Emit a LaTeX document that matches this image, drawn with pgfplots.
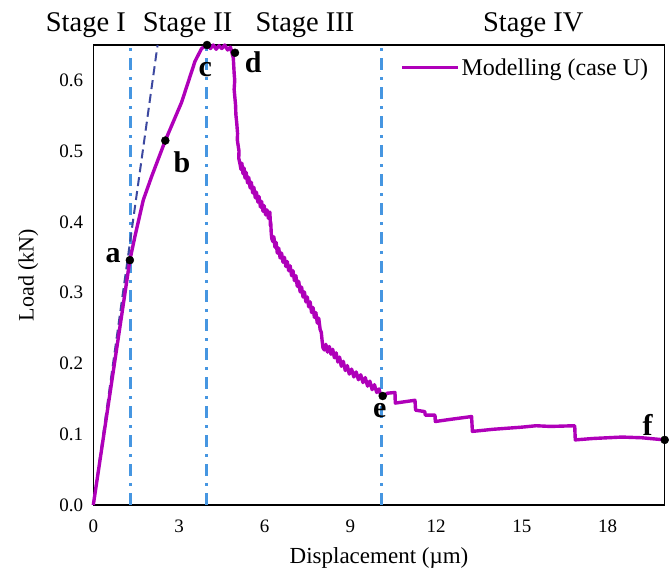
\documentclass[border=0pt]{standalone}
\usepackage{fontspec}
\setmainfont{Liberation Serif}
\usepackage{pgfplots}
\pgfplotsset{compat=1.18}
\definecolor{curve}{RGB}{175,0,185}
\definecolor{vline}{RGB}{70,150,225}
\definecolor{tline}{RGB}{60,72,160}
\begin{document}
\begin{tikzpicture}
\useasboundingbox (-93.3bp,-70bp) rectangle (578.7bp,505bp);
\begin{axis}[
  scale only axis,
  width=571.4bp, height=460bp,
  xmin=0, xmax=20, ymin=0, ymax=0.65,
  xtick={0,3,...,18},
  ytick={0,0.1,...,0.6},
  major tick length=0pt,
  axis line style={black, line width=1.1bp},
  /pgf/number format/assume math mode=true,
  yticklabel style={/pgf/number format/.cd, fixed, fixed zerofill, precision=1, /tikz/.cd, inner sep=0pt, xshift=-10bp, font=\fontsize{19bp}{22bp}\selectfont},
  xticklabel style={inner sep=0pt, yshift=-15bp, font=\fontsize{19bp}{22bp}\selectfont},
  xlabel={Displacement (µm)},
  ylabel={Load (kN)},
  xlabel style={at={(axis description cs:0.5,-0.1152)}, anchor=center, font=\fontsize{23bp}{26bp}\selectfont},
  ylabel style={at={(axis description cs:-0.1138,0.5)}, anchor=center, font=\fontsize{22bp}{26bp}\selectfont},
  clip=false,
  legend style={draw=none, fill=none, at={(axis description cs:0.975,0.975)}, anchor=north east, inner sep=0pt, font=\fontsize{24bp}{28bp}\selectfont},
  legend cell align=left,
  legend image code/.code={\draw[#1, line width=3bp] (0bp,0bp) -- (56bp,0bp);},
]
% vertical stage boundaries
\addplot[vline, line width=3bp, dash pattern=on 12bp off 7bp on 3bp off 7bp, forget plot] coordinates {(1.3,0) (1.3,0.65)};
\addplot[vline, line width=3bp, dash pattern=on 12bp off 7bp on 3bp off 7bp, forget plot] coordinates {(3.95,0) (3.95,0.65)};
\addplot[vline, line width=3bp, dash pattern=on 12bp off 7bp on 3bp off 7bp, forget plot] coordinates {(10.1,0) (10.1,0.65)};
% initial stiffness line
\addplot[tline, line width=2bp, dash pattern=on 9bp off 5bp, forget plot] coordinates {(0,0) (2.25,0.65)};
% main curve
\addplot[curve, line width=3.4bp, line join=round] coordinates {
(0,0) (0.5,0.135) (1.0,0.27) (1.28,0.346) (1.46,0.380) (1.75,0.431) (2.04,0.464) (2.52,0.515) (3.09,0.569) (3.56,0.627) (3.79,0.645) (3.98,0.650)
(4.1,0.645) (4.2,0.650) (4.3,0.644) (4.4,0.649) (4.5,0.645) (4.6,0.650) (4.7,0.643) (4.8,0.647) (4.9,0.632)
(4.93,0.61) (4.95,0.60) (4.93,0.587) (4.98,0.565) (4.99,0.552) (5.02,0.540) (5.05,0.525) (5.04,0.516) (5.10,0.500) (5.09,0.490) (5.13,0.483)
(5.17,0.474)(5.20,0.483)(5.24,0.468)(5.28,0.476)(5.31,0.462)(5.35,0.470)(5.40,0.455)(5.44,0.463)(5.49,0.448)(5.53,0.456)(5.58,0.441)(5.62,0.449)(5.67,0.434)(5.71,0.442)(5.76,0.428)(5.80,0.436)(5.85,0.421)(5.89,0.429)(5.94,0.415)(5.98,0.423)(6.03,0.410)(6.08,0.417)(6.13,0.405)(6.18,0.414)(6.20,0.395)(6.21,0.400)(6.23,0.383)(6.25,0.376)(6.29,0.372)(6.32,0.379)(6.36,0.364)(6.40,0.371)(6.44,0.356)(6.49,0.363)(6.54,0.349)(6.59,0.356)(6.64,0.343)(6.69,0.350)(6.74,0.337)(6.79,0.344)(6.84,0.331)(6.89,0.338)(6.94,0.324)(6.99,0.331)(7.04,0.317)(7.09,0.324)(7.14,0.309)(7.19,0.316)(7.24,0.301)(7.29,0.308)(7.34,0.294)(7.39,0.301)(7.44,0.287)(7.49,0.294)(7.54,0.280)(7.59,0.287)(7.64,0.272)(7.69,0.279)(7.74,0.265)(7.79,0.272)(7.84,0.257)(7.89,0.264)(7.94,0.248)(7.98,0.244)(8.01,0.232)(8.04,0.222)(8.09,0.219)(8.14,0.227)(8.20,0.216)(8.26,0.224)(8.32,0.213)(8.38,0.220)(8.44,0.208)(8.50,0.215)(8.56,0.202)(8.62,0.209)(8.68,0.196)(8.75,0.203)(8.82,0.190)(8.89,0.197)(8.96,0.185)(9.04,0.192)(9.12,0.181)(9.20,0.188)(9.28,0.177)(9.36,0.184)(9.44,0.173)(9.52,0.180)(9.60,0.168)(9.68,0.175)(9.76,0.163)(9.84,0.170)(9.92,0.159)(10.00,0.164)(10.06,0.155)(10.13,0.154)
(10.3,0.158) (10.56,0.159) (10.57,0.144) (11.26,0.148) (11.28,0.134) (11.6,0.132) (11.62,0.127) (11.96,0.127) (11.97,0.118) (12.5,0.121) (13.24,0.125) (13.27,0.104) (14.0,0.107) (15.0,0.110) (15.5,0.112) (16.0,0.111) (16.85,0.112) (16.87,0.092) (17.5,0.094) (18.5,0.096) (19.2,0.095) (20.0,0.092)
};
\addlegendentry{Modelling (case U)}
% key points
\addplot[only marks, mark=*, mark size=4bp, black, forget plot] coordinates {(1.28,0.346) (2.52,0.515) (3.98,0.650) (4.96,0.639) (10.13,0.154) (20.0,0.092)};
% point labels
\node[font=\fontsize{30bp}{34bp}\selectfont\bfseries, anchor=center] at (axis cs:0.69,0.353) {a};
\node[font=\fontsize{30bp}{34bp}\selectfont\bfseries, anchor=center] at (axis cs:3.1,0.485) {b};
\node[font=\fontsize{30bp}{34bp}\selectfont\bfseries, anchor=center] at (axis cs:3.92,0.615) {c};
\node[font=\fontsize{30bp}{34bp}\selectfont\bfseries, anchor=center] at (axis cs:5.6,0.625) {d};
\node[font=\fontsize{30bp}{34bp}\selectfont\bfseries, anchor=center] at (axis cs:10.03,0.133) {e};
\node[font=\fontsize{30bp}{34bp}\selectfont\bfseries, anchor=center] at (axis cs:19.4,0.113) {f};
% stage labels
\node[font=\fontsize{28.5bp}{32bp}\selectfont, anchor=base] at (axis cs:-0.26,0.65) [yshift=13bp] {Stage I};
\node[font=\fontsize{28.5bp}{32bp}\selectfont, anchor=base] at (axis cs:3.30,0.65) [yshift=13bp] {Stage II};
\node[font=\fontsize{28.5bp}{32bp}\selectfont, anchor=base] at (axis cs:7.41,0.65) [yshift=13bp] {Stage III};
\node[font=\fontsize{28.5bp}{32bp}\selectfont, anchor=base] at (axis cs:15.4,0.65) [yshift=13bp] {Stage IV};
\end{axis}
\end{tikzpicture}
\end{document}
